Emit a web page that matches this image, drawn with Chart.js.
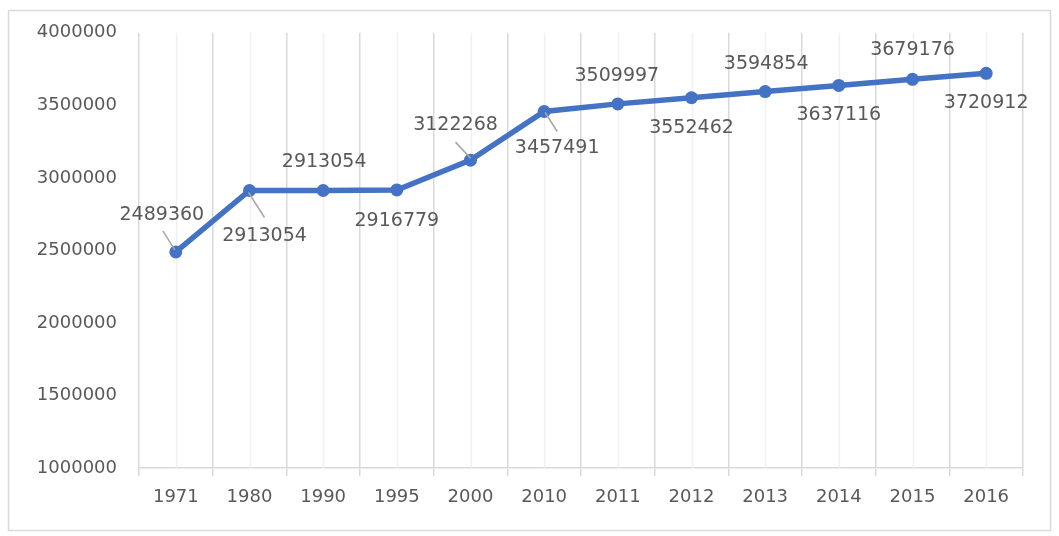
<!DOCTYPE html>
<html>
<head>
<meta charset="utf-8">
<script src="https://cdn.jsdelivr.net/npm/chart.js@4/dist/chart.umd.min.js"></script>
<style>
  html, body { margin: 0; padding: 0; background: #ffffff; }
  #wrap { width: 1059px; height: 536px; }
</style>
</head>
<body>
<div id="wrap"><canvas id="c" width="1059" height="536"></canvas></div>
<script>
// ---- data ----
const years = ['1971', '1980', '1990', '1995', '2000', '2010', '2011', '2012', '2013', '2014', '2015', '2016'];
const population = [2489360, 2913054, 2913054, 2916779, 3122268, 3457491, 3509997, 3552462, 3594854, 3637116, 3679176, 3720912];
const yTicks = { min: 1000000, max: 4000000, step: 500000 };

// ---- label placement (style only): label centre offset from point ----
const labelOffsets = [[-14, -37], [15, 46], [1, -28], [0, 31], [-15, -35], [13, 37], [-1, -28], [0, 30], [1, -28], [0, 30], [0, -29], [0, 30]];
// leader lines relative to point: [x1, y1, x2, y2] or null
const leaders = [[-13, -21, -1, -2], [-1, 2, 15, 27], null, null, [-15, -18, 0, -2], [1, 1, 13, 20], null, null, null, null, null, null];

const GRAY_TEXT = '#595959';
const FONT = 'DejaVu Sans';

const frame = {
  id: 'frame',
  beforeDraw(chart) {
    const ctx = chart.ctx;
    ctx.save();
    ctx.fillStyle = '#ffffff';
    ctx.fillRect(0, 0, chart.width, chart.height);
    ctx.strokeStyle = '#d9d9d9';
    ctx.lineWidth = 1.5;
    ctx.strokeRect(8.5, 10.5, 1042, 520);
    ctx.restore();
  },
  beforeDatasetsDraw(chart) {
    // minor vertical gridlines at category centres
    const ctx = chart.ctx, x = chart.scales.x, a = chart.chartArea;
    ctx.save();
    ctx.strokeStyle = '#f0f0f0';
    ctx.lineWidth = 1.5;
    years.forEach((_, i) => {
      const px = Math.round(x.getPixelForValue(i)) + 0.5;
      ctx.beginPath();
      ctx.moveTo(px, a.top);
      ctx.lineTo(px, a.bottom);
      ctx.stroke();
    });
    ctx.restore();
  },
  afterDatasetsDraw(chart) {
    const ctx = chart.ctx;
    const meta = chart.getDatasetMeta(0);
    ctx.save();
    // leader lines
    ctx.strokeStyle = '#a6a6a6';
    ctx.lineWidth = 1.5;
    meta.data.forEach((pt, i) => {
      const l = leaders[i];
      if (!l) return;
      ctx.beginPath();
      ctx.moveTo(pt.x + l[0], pt.y + l[1]);
      ctx.lineTo(pt.x + l[2], pt.y + l[3]);
      ctx.stroke();
    });
    // data labels
    ctx.fillStyle = GRAY_TEXT;
    ctx.font = '19px "' + FONT + '"';
    ctx.textAlign = 'center';
    ctx.textBaseline = 'middle';
    meta.data.forEach((pt, i) => {
      const o = labelOffsets[i];
      ctx.fillText(String(population[i]), pt.x + o[0], pt.y + o[1]);
    });
    ctx.restore();
  }
};

new Chart(document.getElementById('c'), {
  type: 'line',
  data: {
    labels: years,
    datasets: [{
      data: population,
      borderColor: '#4472c4',
      backgroundColor: '#4472c4',
      borderWidth: 5.5,
      pointRadius: 6.5,
      pointHoverRadius: 6.5,
      pointBackgroundColor: '#4472c4',
      pointBorderColor: '#4472c4',
      pointBorderWidth: 0,
      tension: 0,
      fill: false
    }]
  },
  options: {
    responsive: false,
    animation: false,
    events: [],
    layout: { padding: { left: 0, right: 36, top: 32, bottom: 0 } },
    plugins: { legend: { display: false }, tooltip: { enabled: false }, title: { display: false } },
    scales: {
      x: {
        type: 'category',
        offset: true,
        grid: { display: true, offset: true, color: '#d9d9d9', lineWidth: 1.5, drawTicks: true, tickLength: 8, tickColor: '#d9d9d9' },
        border: { display: true, color: '#d9d9d9', width: 1.5 },
        ticks: { color: GRAY_TEXT, font: { family: FONT, size: 18 }, padding: 11, maxRotation: 0, autoSkip: false },
        afterFit(s) { s.height = 68; }
      },
      y: {
        min: yTicks.min,
        max: yTicks.max,
        grid: { display: false, drawTicks: false },
        border: { display: false },
        ticks: {
          stepSize: yTicks.step,
          color: GRAY_TEXT,
          font: { family: FONT, size: 18 },
          padding: 22,
          callback: v => String(v)
        },
        afterFit(s) { s.width = 139; }
      }
    }
  },
  plugins: [frame]
});
</script>
</body>
</html>
